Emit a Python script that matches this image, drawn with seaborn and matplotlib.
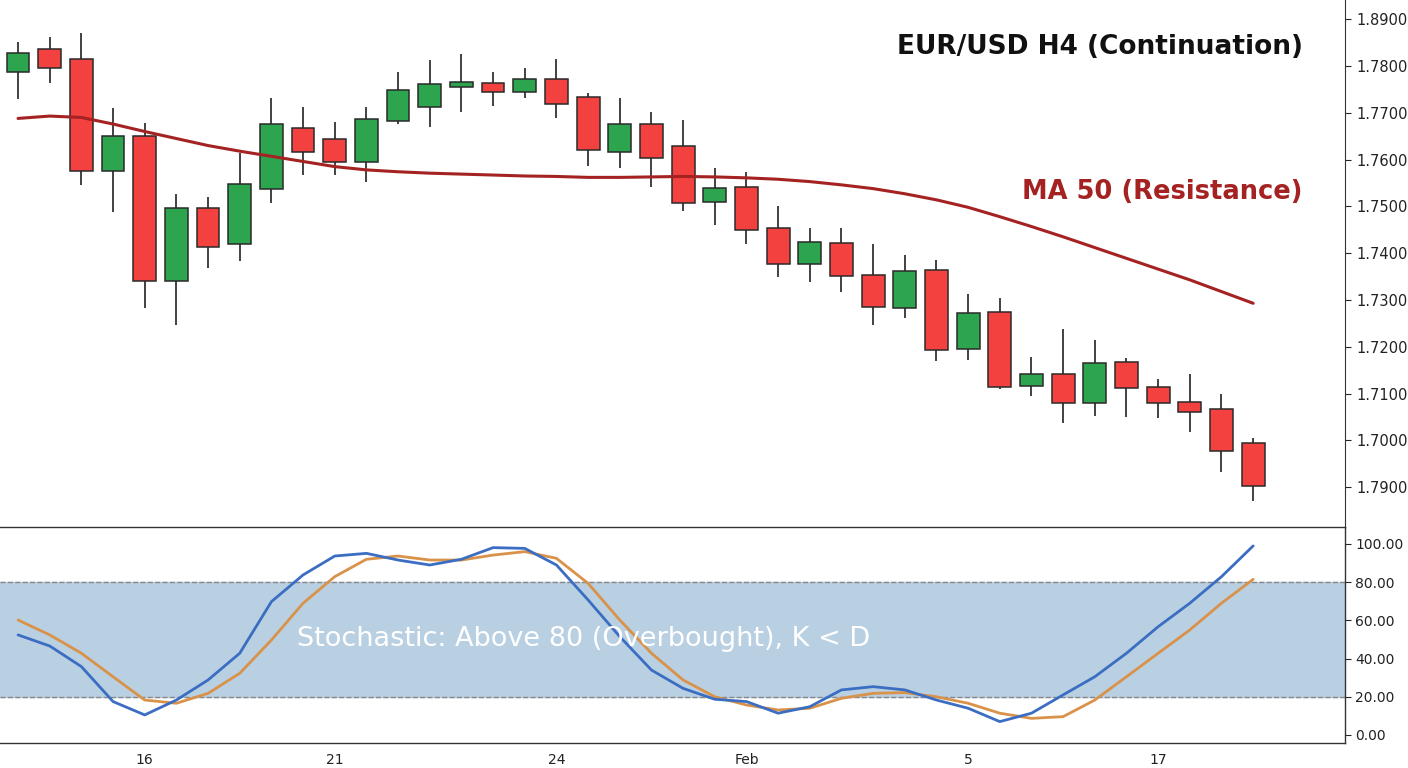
import matplotlib
matplotlib.use("Agg")
import matplotlib.pyplot as plt
import numpy as np
import pandas as pd
import seaborn as sns

sns.set_style("white")
plt.rcParams["font.family"] = ["DejaVu Sans"]

# OHLC (40 H4 candles)
opens = [1.7787, 1.7836, 1.7815, 1.7575, 1.7650, 1.7340, 1.7496, 1.7419, 1.7537, 1.7667,
         1.7644, 1.7594, 1.7682, 1.7712, 1.7755, 1.7763, 1.7744, 1.7772, 1.7733, 1.7616,
         1.7676, 1.7629, 1.7509, 1.7541, 1.7453, 1.7376, 1.7421, 1.7353, 1.7282, 1.7364,
         1.7195, 1.7274, 1.7116, 1.7141, 1.7079, 1.7167, 1.7114, 1.7082, 1.7067, 1.6994]
highs = [1.7851, 1.7862, 1.7870, 1.7710, 1.7678, 1.7526, 1.7520, 1.7614, 1.7731, 1.7712,
         1.7680, 1.7712, 1.7787, 1.7812, 1.7825, 1.7787, 1.7795, 1.7815, 1.7742, 1.7731,
         1.7701, 1.7684, 1.7582, 1.7573, 1.7500, 1.7453, 1.7453, 1.7419, 1.7396, 1.7385,
         1.7312, 1.7304, 1.7178, 1.7238, 1.7214, 1.7176, 1.7131, 1.7141, 1.7099, 1.7005]
lows = [1.7729, 1.7763, 1.7545, 1.7488, 1.7282, 1.7246, 1.7368, 1.7383, 1.7507, 1.7567,
        1.7567, 1.7552, 1.7675, 1.7669, 1.7701, 1.7714, 1.7731, 1.7688, 1.7586, 1.7582,
        1.7541, 1.7490, 1.7460, 1.7419, 1.7349, 1.7338, 1.7317, 1.7246, 1.7261, 1.7169,
        1.7171, 1.7109, 1.7094, 1.7037, 1.7052, 1.7050, 1.7047, 1.7018, 1.6932, 1.6870]
closes = [1.7827, 1.7795, 1.7575, 1.7650, 1.7340, 1.7496, 1.7413, 1.7547, 1.7676, 1.7616,
          1.7594, 1.7686, 1.7748, 1.7761, 1.7765, 1.7744, 1.7772, 1.7718, 1.7620, 1.7676,
          1.7603, 1.7507, 1.7539, 1.7449, 1.7376, 1.7424, 1.7351, 1.7285, 1.7362, 1.7193,
          1.7272, 1.7114, 1.7141, 1.7079, 1.7165, 1.7112, 1.7079, 1.7060, 1.6977, 1.6902]
ma50 = [1.7688, 1.7693, 1.7690, 1.7676, 1.7660, 1.7645, 1.7630, 1.7618, 1.7607, 1.7596,
        1.7585, 1.7578, 1.7574, 1.7571, 1.7569, 1.7567, 1.7565, 1.7564, 1.7562, 1.7562,
        1.7563, 1.7564, 1.7563, 1.7561, 1.7558, 1.7553, 1.7546, 1.7538, 1.7527, 1.7514,
        1.7498, 1.7478, 1.7457, 1.7435, 1.7412, 1.7389, 1.7366, 1.7343, 1.7318, 1.7293]
stoch_k = [52.4, 46.6, 35.8, 17.5, 10.5, 18.3, 28.8, 42.8, 69.8, 83.8,
           93.7, 95.1, 91.6, 89.0, 92.0, 98.1, 97.7, 89.0, 70.7, 51.5,
           34.0, 24.4, 18.7, 17.5, 11.4, 14.8, 23.6, 25.3, 23.6, 18.3,
           14.0, 7.0, 11.4, 21.0, 30.5, 42.8, 56.7, 69.0, 82.9, 99.0]
stoch_d = [60.2, 52.4, 42.8, 30.5, 18.3, 16.6, 21.8, 32.3, 49.7, 69.0,
           82.9, 92.0, 93.7, 91.6, 91.6, 94.2, 96.0, 92.5, 79.4, 60.2,
           42.8, 28.8, 20.0, 15.7, 13.1, 14.0, 19.2, 21.8, 22.2, 20.0,
           16.6, 11.4, 8.7, 9.6, 18.3, 30.5, 42.8, 55.0, 69.0, 81.5]
tick_pos = [4, 10, 17, 23, 30, 36]
tick_labels = ["16", "21", "24", "Feb", "5", "17"]
price_ticks = [1.69, 1.70, 1.71, 1.72, 1.73, 1.74, 1.75, 1.76, 1.77, 1.78, 1.79]
price_labels = ["1.7900", "1.7000", "1.7100", "1.7200", "1.7300", "1.7400",
                "1.7500", "1.7600", "1.7700", "1.7800", "1.8900"]

df = pd.DataFrame({"open": opens, "high": highs, "low": lows, "close": closes,
                   "ma": ma50, "k": stoch_k, "d": stoch_d})
df["i"] = np.arange(len(df))

fig = plt.figure(figsize=(14.08, 7.68), dpi=100)
ax = fig.add_axes([0, 1 - 527 / 768, 1345 / 1408, 527 / 768])
ax2 = fig.add_axes([0, 1 - 743 / 768, 1345 / 1408, 216 / 768])

up = df.close >= df.open
colors = np.where(up, "#2da44e", "#f2413f")
ax.vlines(df.i, df.low, df.high, color="#333333", lw=1.3, zorder=2)
ax.bar(df.i, (df.close - df.open).abs().clip(lower=0.0003), bottom=df[["open", "close"]].min(axis=1),
       width=0.72, color=colors, edgecolor="#2a2a2a", linewidth=1.1, zorder=3)
sns.lineplot(data=df, x="i", y="ma", ax=ax, color="#a52222", lw=2.2, zorder=4)

ax.set_xlim(-0.57, 41.9)
ax.set_ylim(1.6815, 1.7941)
ax.yaxis.tick_right()
ax.set_yticks(price_ticks)
ax.set_yticklabels(price_labels, fontsize=10.5, color="#222222")
ax.tick_params(axis="y", length=4, width=0.8, pad=4)
ax.set_xticks([])
ax.set_xlabel("")
ax.set_ylabel("")
for s in ["top", "left", "bottom"]:
    ax.spines[s].set_visible(False)
ax.spines["right"].set_color("#333333")

ax.text(0.9685, 0.91, "EUR/USD H4 (Continuation)", transform=ax.transAxes, ha="right",
        va="center", fontsize=19, fontweight="bold", color="#111111")
ax.text(0.9685, 0.635, "MA 50 (Resistance)", transform=ax.transAxes, ha="right",
        va="center", fontsize=18.5, fontweight="bold", color="#a52222")

# stochastic panel
ax2.axhspan(20, 80, color="#b9d0e3", zorder=0)
ax2.axhline(80, color="#888888", ls="--", lw=1.0, zorder=1)
ax2.axhline(20, color="#888888", ls="--", lw=1.0, zorder=1)
sns.lineplot(data=df, x="i", y="d", ax=ax2, color="#d9924a", lw=2.0, zorder=3)
sns.lineplot(data=df, x="i", y="k", ax=ax2, color="#3b6ec2", lw=2.0, zorder=4)
ax2.text(8.8, 50, "Stochastic: Above 80 (Overbought), K < D", color="white",
         fontsize=19.5, va="center", ha="left", zorder=5)
ax2.set_xlim(-0.57, 41.9)
ax2.set_ylim(-4.2, 108.9)
ax2.yaxis.tick_right()
ax2.set_yticks([0, 20, 40, 60, 80, 100])
ax2.set_yticklabels(["0.00", "20.00", "40.00", "60.00", "80.00", "100.00"], fontsize=10, color="#222222")
ax2.set_xticks(tick_pos)
ax2.set_xticklabels(tick_labels, fontsize=10, color="#222222")
ax2.tick_params(axis="both", length=4, width=0.8)
ax2.set_xlabel("")
ax2.set_ylabel("")
ax2.spines["left"].set_visible(False)
for s in ["right", "bottom", "top"]:
    ax2.spines[s].set_color("#333333")
    ax2.spines[s].set_linewidth(1.0)

fig.savefig("out.png", dpi=100)
